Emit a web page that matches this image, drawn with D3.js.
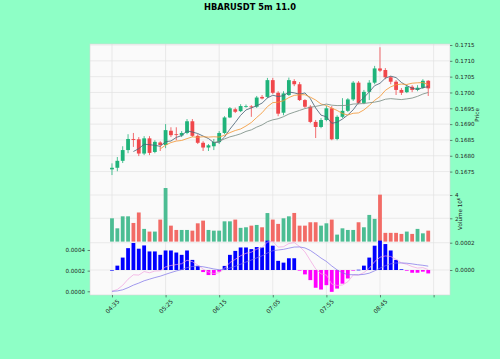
<!DOCTYPE html>
<html><head><meta charset="utf-8">
<script src="https://cdn.jsdelivr.net/npm/d3@7"></script>
<style>body{margin:0;background:#8effc6}svg{display:block}</style>
</head><body><svg id="c" width="500" height="359"></svg>
<script>
// ---- data ----
const title = "HBARUSDT 5m 11.0";
const tickLabels = ["04:35","05:25","06:15","07:05","07:55","08:45",""];
const priceTicks = [0.1675,0.1680,0.1685,0.1690,0.1695,0.1700,0.1705,0.1710,0.1715];
const volTicks = [2e6,4e6];
const histTicks = [0,0.0002];
const lineTicks = [0,0.0002,0.0004];
const open = [0.16757,0.16762,0.16784,0.16818,0.16853,0.16852,0.16807,0.16855,0.16812,0.16842,
0.16834,0.16879,0.16868,0.16864,0.16872,0.16909,0.16863,0.16841,0.16826,0.16830,
0.16843,0.16872,0.16921,0.16947,0.16941,0.16955,0.16956,0.16955,0.16986,0.16986,
0.17039,0.16999,0.16936,0.16992,0.17036,0.17026,0.16976,0.16955,0.16907,0.16891,
0.16913,0.16950,0.16853,0.16923,0.16942,0.16978,0.17031,0.16967,0.17002,0.17031,
0.17076,0.17071,0.17048,0.17034,0.17008,0.17001,0.17018,0.17008,0.17015,0.17037];
const close = [0.16762,0.16784,0.16818,0.16853,0.16850,0.16807,0.16855,0.16809,0.16844,0.16834,
0.16881,0.16865,0.16866,0.16872,0.16909,0.16863,0.16841,0.16826,0.16833,0.16844,
0.16872,0.16921,0.16950,0.16939,0.16957,0.16957,0.16953,0.16984,0.16981,0.17039,
0.16999,0.16933,0.16997,0.17039,0.17026,0.16976,0.16955,0.16907,0.16891,0.16913,
0.16950,0.16852,0.16923,0.16942,0.16978,0.17031,0.16967,0.17002,0.17031,0.17076,
0.17069,0.17048,0.17034,0.17008,0.16999,0.17018,0.17008,0.17015,0.17037,0.17013];
const high = [0.16776,0.16796,0.16830,0.16868,0.16872,0.16859,0.16862,0.16862,0.16849,0.16846,
0.16900,0.16890,0.16890,0.16878,0.16916,0.16916,0.16868,0.16846,0.16837,0.16853,
0.16878,0.16925,0.16954,0.16952,0.16963,0.16962,0.16960,0.16989,0.16992,0.17046,
0.17046,0.17004,0.17004,0.17047,0.17042,0.17033,0.16979,0.16960,0.16913,0.16919,
0.16957,0.16957,0.16928,0.16982,0.16982,0.17036,0.17036,0.17008,0.17039,0.17084,
0.17143,0.17077,0.17052,0.17039,0.17014,0.17023,0.17023,0.17023,0.17042,0.17039];
const low = [0.16739,0.16751,0.16777,0.16808,0.16828,0.16799,0.16802,0.16802,0.16808,0.16815,
0.16824,0.16859,0.16849,0.16859,0.16868,0.16859,0.16837,0.16815,0.16815,0.16818,
0.16837,0.16868,0.16919,0.16935,0.16938,0.16952,0.16923,0.16951,0.16978,0.16982,
0.16995,0.16925,0.16928,0.16989,0.17020,0.16973,0.16951,0.16903,0.16856,0.16887,
0.16909,0.16849,0.16849,0.16919,0.16938,0.16973,0.16963,0.16963,0.16976,0.17026,
0.17065,0.17042,0.17026,0.16992,0.16992,0.16998,0.17001,0.17004,0.17011,0.16989];
const volume = [2.0,1.14,2.17,2.17,1.6,2.5,1.09,0.86,0.86,1.89,
4.6,1.37,1.0,1.0,1.0,0.94,1.57,1.8,1.0,0.94,
0.94,1.74,1.74,1.89,1.18,1.23,1.37,1.43,1.23,2.45,
1.89,1.52,2.0,2.17,2.46,1.37,1.37,1.66,1.66,1.37,
1.57,1.89,0.6,1.14,1.0,1.0,1.66,1.23,2.29,1.95,
4.03,0.75,0.75,0.75,0.66,0.86,0.66,1.09,0.71,0.94].map(v=>v*1e6);
// MACD histogram
const hist = [0,0.000032,0.000091,0.00016,0.000198,0.000156,0.00018,0.000136,0.000136,0.000111,
0.000143,0.000143,0.000128,0.000111,0.000143,0.000074,0.00003,-0.000015,-0.000037,-0.000037,
-0.000012,0.00003,0.000111,0.00014,0.000165,0.000165,0.000153,0.000168,0.000165,0.000215,
0.000178,0.000067,0.000054,0.000086,0.000086,-0.000003,-0.000032,-0.000074,-0.00013,-0.000143,
-0.000111,-0.00016,-0.000136,-0.0001,-0.000062,-0.000002,0.000002,0.000032,0.000091,0.000178,
0.000215,0.00019,0.000143,0.000074,0.000005,-0.000005,-0.00002,-0.00002,-0.000012,-0.000025];
const mavPeriods = [5,10,20];

// ---- indicator lines derived from closes ----
const n = close.length;
function sma(p){return close.map((c,i)=> i<p-1?null: d3.mean(close.slice(i-p+1,i+1)));}
function ema(arr,span){const a=2/(span+1);const out=[];arr.forEach((v,i)=>out.push(i===0?v:out[i-1]+a*(v-out[i-1])));return out;}
const e12=ema(close,12), e26=ema(close,26);
const macd=e12.map((v,i)=>v-e26[i]);
const signal=ema(macd,9);

// ---- layout ----
const L=90,R=450,T=44,pBot=186,vBot=241.6,mBot=295;
const svg=d3.select("#c");
const font="DejaVu Sans";
const x=d3.scaleLinear().domain([-4.1,63.06]).range([L,R]);
const yP=d3.scaleLinear().domain([0.167044,0.171532]).range([pBot,T]);
const yV=d3.scaleLinear().domain([0,4.773e6]).range([vBot,pBot]);
const yH=d3.scaleLinear().domain([-0.000183,0.000208]).range([mBot,vBot]);
const yM=d3.scaleLinear().domain([-0.0000358,0.0004813]).range([mBot,vBot]);
const up="#1fb37a", dn="#f0474b", vup="#4cbd93", vdn="#f26b66";
const gridC="#e2e2e2";

svg.append("rect").attr("width",500).attr("height",359).attr("fill","#8effc6");
svg.append("rect").attr("x",L).attr("y",T).attr("width",R-L).attr("height",mBot-T).attr("fill","#fafafa");

// grid
const g=svg.append("g").attr("stroke",gridC).attr("stroke-width",0.7);
const xt=tickLabels.map((d,i)=>i*10);
xt.forEach(t=>g.append("line").attr("x1",x(t)).attr("x2",x(t)).attr("y1",T).attr("y2",mBot));
priceTicks.forEach(t=>g.append("line").attr("x1",L).attr("x2",R).attr("y1",yP(t)).attr("y2",yP(t)));
volTicks.forEach(t=>g.append("line").attr("x1",L).attr("x2",R).attr("y1",yV(t)).attr("y2",yV(t)));
histTicks.forEach(t=>g.append("line").attr("x1",L).attr("x2",R).attr("y1",yH(t)).attr("y2",yH(t)));

// candles
const idx=d3.range(n);
const cw=3.8;
const cg=svg.append("g");
cg.selectAll("line.w").data(idx).join("line")
 .attr("x1",i=>x(i)).attr("x2",i=>x(i)).attr("y1",i=>yP(high[i])).attr("y2",i=>yP(low[i]))
 .attr("stroke",i=>close[i]>=open[i]?up:dn).attr("stroke-width",0.8);
cg.selectAll("rect").data(idx).join("rect")
 .attr("x",i=>x(i)-cw/2).attr("width",cw)
 .attr("y",i=>yP(Math.max(open[i],close[i])))
 .attr("height",i=>Math.max(0.8,Math.abs(yP(open[i])-yP(close[i]))))
 .attr("fill",i=>close[i]>=open[i]?up:dn);

// moving averages
const mavColors=["#4d6579","#f39a3a","#7d9086"];
mavPeriods.forEach((p,k)=>{
  const s=sma(p);
  const ln=d3.line().defined(d=>d!=null).x((d,i)=>x(i)).y(d=>yP(d));
  svg.append("path").datum(s).attr("d",ln).attr("fill","none").attr("stroke",mavColors[k]).attr("stroke-width",0.85);
});

// volume
svg.append("g").selectAll("rect").data(idx).join("rect")
 .attr("x",i=>x(i)-cw/2).attr("width",cw)
 .attr("y",i=>yV(volume[i])).attr("height",i=>yV(0)-yV(volume[i]))
 .attr("fill",i=>close[i]>=open[i]?vup:vdn);

// MACD histogram
svg.append("g").selectAll("rect").data(idx).join("rect")
 .attr("x",i=>x(i)-cw/2).attr("width",cw)
 .attr("y",i=>Math.min(yH(hist[i]),yH(0)))
 .attr("height",i=>Math.max(0.6,Math.abs(yH(hist[i])-yH(0))))
 .attr("fill",i=>hist[i]>=0?"#0000ff":"#ff00ff");
// MACD lines
const lm=d3.line().x((d,i)=>x(i)).y(d=>yM(d));
svg.append("path").datum(macd).attr("d",lm).attr("fill","none").attr("stroke","#f0a0e0").attr("stroke-width",0.7);
svg.append("path").datum(signal).attr("d",lm).attr("fill","none").attr("stroke","#7a6ee8").attr("stroke-width",0.7);

// panel borders
svg.append("rect").attr("x",L).attr("y",T).attr("width",R-L).attr("height",mBot-T).attr("fill","none").attr("stroke","#d6d6d6").attr("stroke-width",0.6);

// axes
function styleAxis(sel){sel.selectAll("path.domain").remove();sel.selectAll("line").attr("stroke","#333").attr("stroke-width",0.6);
  sel.selectAll("text").attr("font-family",font).attr("font-size",5.6).attr("fill","#222");}
svg.append("g").attr("transform",`translate(${R},0)`)
 .call(d3.axisRight(yP).tickValues(priceTicks).tickFormat(d3.format(".4f")).tickSize(2.4).tickPadding(2.6)).call(styleAxis);
svg.append("g").attr("transform",`translate(${R},0)`)
 .call(d3.axisRight(yV).tickValues(volTicks).tickFormat(d=>d/1e6).tickSize(2.4).tickPadding(2.6)).call(styleAxis);
svg.append("g").attr("transform",`translate(${R},0)`)
 .call(d3.axisRight(yH).tickValues(histTicks).tickFormat(d3.format(".4f")).tickSize(2.4).tickPadding(2.6)).call(styleAxis);
svg.append("g").attr("transform",`translate(${L},0)`)
 .call(d3.axisLeft(yM).tickValues(lineTicks).tickFormat(d3.format(".4f")).tickSize(2.4).tickPadding(2.6)).call(styleAxis);
const xa=svg.append("g").attr("transform",`translate(0,${mBot})`)
 .call(d3.axisBottom(x).tickValues(xt).tickFormat((d,i)=>tickLabels[i]).tickSize(2.4)).call(styleAxis);
xa.selectAll("text").each(function(d){
  d3.select(this).attr("y",null).attr("dy",null).attr("text-anchor","middle").attr("dominant-baseline","central")
   .attr("font-size",5.9).attr("transform",`translate(0,11.5) rotate(-45)`);
});

// labels
svg.append("text").attr("transform",`translate(479,${(T+pBot)/2}) rotate(-90)`).attr("text-anchor","middle")
 .attr("font-family",font).attr("font-size",5.6).attr("fill","#222").text("Price");
const vl=svg.append("text").attr("transform",`translate(462,${(pBot+vBot)/2}) rotate(-90)`).attr("text-anchor","middle")
 .attr("font-family",font).attr("font-size",5.6).attr("fill","#222");
vl.append("tspan").text("Volume  10");
vl.append("tspan").attr("font-size",4).attr("dy",-2.2).text("6");
svg.append("text").attr("x",250).attr("y",9.5).attr("text-anchor","middle").attr("font-family",font)
 .attr("font-weight","bold").attr("font-size",8.3).attr("fill","#000").text(title);
</script></body></html>
